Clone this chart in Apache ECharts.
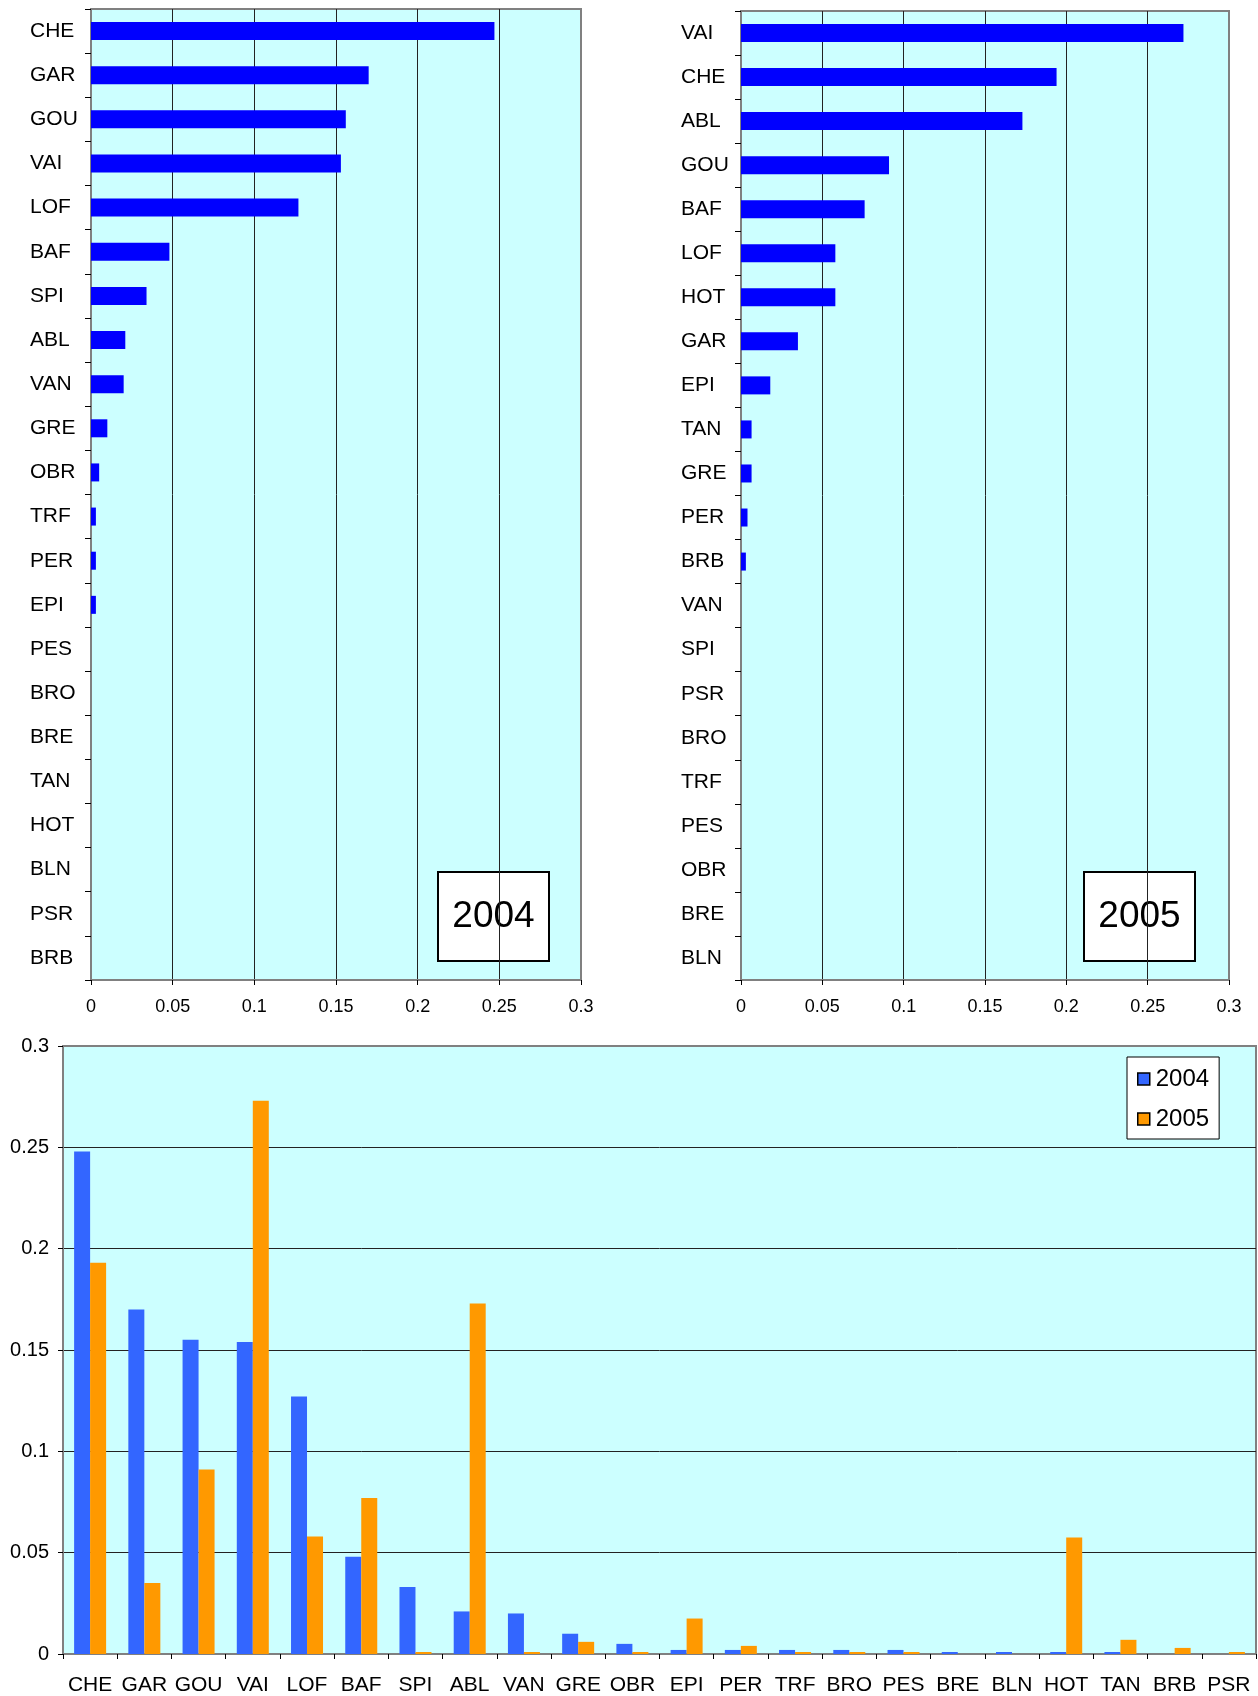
<!DOCTYPE html>
<html>

<head lang="en">
  <meta charset="UTF-8">
  <title>Parts 2004 / 2005</title>
  <script src="https://cdn.jsdelivr.net/npm/echarts@6/dist/echarts.min.js"></script>
  <style>
  body {
    margin: 0;
    background: #fff;
  }
  #section {
    width: 1258px;
    height: 1696px;
  }
  </style>
</head>

<body>
  <div id="section"></div>
</body>
<script>
// comparaison 2004 / 2005 (ordre du graphique du bas)
var categories = ['CHE', 'GAR', 'GOU', 'VAI', 'LOF', 'BAF', 'SPI', 'ABL', 'VAN', 'GRE', 'OBR',
  'EPI', 'PER', 'TRF', 'BRO', 'PES', 'BRE', 'BLN', 'HOT', 'TAN', 'BRB', 'PSR'];
var share2004 = [0.248, 0.170, 0.155, 0.154, 0.127, 0.048, 0.033, 0.021, 0.020, 0.010, 0.005,
  0.002, 0.002, 0.002, 0.002, 0.002, 0.001, 0.001, 0.001, 0.001, 0, 0];
var share2005 = [0.193, 0.035, 0.091, 0.273, 0.058, 0.077, 0.001, 0.173, 0.001, 0.006, 0.001,
  0.0175, 0.004, 0.001, 0.001, 0.001, 0, 0, 0.0575, 0.007, 0.003, 0.001];

// classements annuels (graphiques du haut)
var rank2004Labels = ['CHE', 'GAR', 'GOU', 'VAI', 'LOF', 'BAF', 'SPI', 'ABL', 'VAN', 'GRE', 'OBR',
  'TRF', 'PER', 'EPI', 'PES', 'BRO', 'BRE', 'TAN', 'HOT', 'BLN', 'PSR', 'BRB'];
var rank2004Values = [0.247, 0.170, 0.156, 0.153, 0.127, 0.048, 0.034, 0.021, 0.020, 0.010, 0.005,
  0.003, 0.003, 0.003, 0, 0, 0, 0, 0, 0, 0, 0];
var rank2005Labels = ['VAI', 'CHE', 'ABL', 'GOU', 'BAF', 'LOF', 'HOT', 'GAR', 'EPI', 'TAN', 'GRE',
  'PER', 'BRB', 'VAN', 'SPI', 'PSR', 'BRO', 'TRF', 'PES', 'OBR', 'BRE', 'BLN'];
var rank2005Values = [0.272, 0.194, 0.173, 0.091, 0.076, 0.058, 0.058, 0.035, 0.018, 0.0065, 0.0065,
  0.004, 0.003, 0, 0, 0, 0, 0, 0, 0, 0, 0];

var valueTicks = [0, 0.05, 0.1, 0.15, 0.2, 0.25, 0.3];

var FONT = '"Liberation Sans", Arial, sans-serif';
var myCharts = echarts.init(document.getElementById('section'));

var gridStyle = {
  show: true,
  backgroundColor: '#CCFFFF',
  borderColor: '#808080',
  borderWidth: 2
};

var valueAxis = function(gridIndex, fontSize, margin) {
  return {
    type: 'value',
    gridIndex: gridIndex,
    min: valueTicks[0],
    max: valueTicks[valueTicks.length - 1],
    interval: valueTicks[1] - valueTicks[0],
    axisLine: { show: true, lineStyle: { color: '#808080', width: 2 } },
    axisTick: { show: true, length: 5, lineStyle: { color: '#000' } },
    axisLabel: { color: '#000', fontSize: fontSize, fontFamily: FONT, margin: margin },
    splitLine: { show: true, showMinLine: false, showMaxLine: false, lineStyle: { color: '#222', width: 1 } }
  };
};

var rankAxis = function(gridIndex, labels, margin) {
  return {
    type: 'category',
    gridIndex: gridIndex,
    data: labels,
    inverse: true,
    axisLine: { show: true, lineStyle: { color: '#808080', width: 2 } },
    axisTick: { show: true, length: 6, lineStyle: { color: '#000' } },
    axisLabel: { interval: 0, align: 'left', margin: margin, color: '#000', fontSize: 21, fontFamily: FONT },
    splitLine: { show: false }
  };
};

var yearBox = function(x, label) {
  return {
    type: 'group',
    left: x,
    top: 871,
    children: [{
      type: 'rect',
      shape: { x: 0, y: 0, width: 111, height: 89 },
      style: { fill: '#fff', stroke: '#000', lineWidth: 2 }
    }, {
      type: 'text',
      x: 55.5,
      y: 44.5,
      style: { text: label, font: '37px ' + FONT, fill: '#000', align: 'center', verticalAlign: 'middle' }
    }]
  };
};

option = {
  animation: false,
  textStyle: { fontFamily: FONT },
  grid: [
    Object.assign({ left: 91, top: 9, width: 490, height: 971 }, gridStyle),
    Object.assign({ left: 741, top: 11, width: 488, height: 969 }, gridStyle),
    Object.assign({ left: 63, top: 1046, width: 1193, height: 608 }, gridStyle)
  ],
  legend: {
    data: ['2004', '2005'],
    orient: 'vertical',
    left: 1127,
    top: 1057,
    padding: [10, 10, 8, 10],
    itemWidth: 12,
    itemHeight: 12,
    itemGap: 16,
    icon: 'rect',
    backgroundColor: '#fff',
    borderColor: '#000',
    borderWidth: 1,
    itemStyle: { borderColor: '#000', borderWidth: 1.5 },
    textStyle: { color: '#000', fontSize: 24, fontFamily: FONT, padding: [0, 0, 0, 1] }
  },
  xAxis: [
    valueAxis(0, 18, 18),
    valueAxis(1, 18, 18),
    {
      type: 'category',
      gridIndex: 2,
      data: categories,
      axisLine: { show: true, lineStyle: { color: '#808080', width: 2 } },
      axisTick: { show: true, interval: 0, length: 5, lineStyle: { color: '#000' } },
      axisLabel: { interval: 0, color: '#000', fontSize: 21, fontFamily: FONT, margin: 21 }
    }
  ],
  yAxis: [
    rankAxis(0, rank2004Labels, 61),
    rankAxis(1, rank2005Labels, 60),
    valueAxis(2, 20, 14)
  ],
  series: [{
    name: 'rang 2004',
    type: 'bar',
    xAxisIndex: 0,
    yAxisIndex: 0,
    barWidth: 18,
    itemStyle: { color: '#0000FF' },
    data: rank2004Values
  }, {
    name: 'rang 2005',
    type: 'bar',
    xAxisIndex: 1,
    yAxisIndex: 1,
    barWidth: 18,
    itemStyle: { color: '#0000FF' },
    data: rank2005Values
  }, {
    name: '2004',
    type: 'bar',
    xAxisIndex: 2,
    yAxisIndex: 2,
    barWidth: 16,
    barGap: '0%',
    itemStyle: { color: '#3366FF' },
    data: share2004
  }, {
    name: '2005',
    type: 'bar',
    xAxisIndex: 2,
    yAxisIndex: 2,
    barWidth: 16,
    barGap: '0%',
    itemStyle: { color: '#FF9900' },
    data: share2005
  }],
  graphic: [
    yearBox(437, '2004'),
    yearBox(1083, '2005')
  ]
};

myCharts.setOption(option);
</script>

</html>
